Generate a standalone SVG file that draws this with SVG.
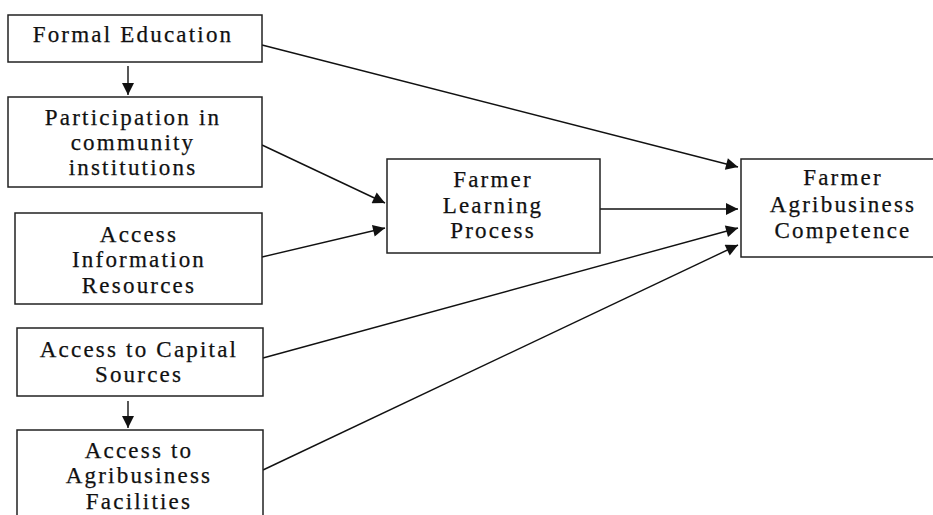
<svg xmlns="http://www.w3.org/2000/svg" width="933" height="515" viewBox="0 0 933 515">
<style>
.box{fill:#fff;stroke:#222;stroke-width:1.5}
.t{font-family:"Liberation Serif","Times New Roman",serif;font-size:23px;fill:#111;stroke:#111;stroke-width:0.25;text-anchor:middle;letter-spacing:2.2px}
.c{stroke:#111;stroke-width:1.4;fill:none;marker-end:url(#ah)}
</style>
<defs>
<marker id="ah" viewBox="0 0 10 10" refX="10" refY="5" markerWidth="15" markerHeight="12" markerUnits="userSpaceOnUse" orient="auto">
<path d="M0,0 L10,5 L0,10 z" fill="#111"/>
</marker>
</defs>
<rect width="933" height="515" fill="#fff"/>
<g id="connectors">
<line class="c" x1="262" y1="45" x2="738" y2="167"/>
<line class="c" x1="128" y1="66" x2="128" y2="95"/>
<line class="c" x1="262" y1="145" x2="385" y2="203"/>
<line class="c" x1="262" y1="257" x2="385" y2="228"/>
<line class="c" x1="600" y1="209" x2="738" y2="209"/>
<line class="c" x1="263" y1="358" x2="738" y2="228"/>
<line class="c" x1="128" y1="401" x2="128" y2="428"/>
<line class="c" x1="263" y1="470" x2="738" y2="245"/>
</g>
<g id="formal-education">
<rect class="box" x="8" y="15" width="254" height="47"/>
<text class="t" x="133" y="42">Formal Education</text>
</g>
<g id="participation">
<rect class="box" x="8" y="97" width="254" height="90"/>
<text class="t" x="133" y="125">Participation in</text>
<text class="t" x="133" y="150">community</text>
<text class="t" x="133" y="175">institutions</text>
</g>
<g id="access-information">
<rect class="box" x="15" y="213" width="247" height="91"/>
<text class="t" x="139" y="242">Access</text>
<text class="t" x="139" y="267">Information</text>
<text class="t" x="139" y="293">Resources</text>
</g>
<g id="access-capital">
<rect class="box" x="17" y="328" width="246" height="68"/>
<text class="t" x="139" y="357">Access to Capital</text>
<text class="t" x="139" y="382">Sources</text>
</g>
<g id="access-facilities">
<rect class="box" x="17" y="430" width="246" height="100"/>
<text class="t" x="139" y="458">Access to</text>
<text class="t" x="139" y="483">Agribusiness</text>
<text class="t" x="139" y="509">Facilities</text>
</g>
<g id="farmer-learning">
<rect class="box" x="387" y="159" width="213" height="94"/>
<text class="t" x="493" y="187">Farmer</text>
<text class="t" x="493" y="213">Learning</text>
<text class="t" x="493" y="238">Process</text>
</g>
<g id="farmer-competence">
<rect class="box" x="741" y="159" width="200" height="98"/>
<text class="t" x="843" y="185">Farmer</text>
<text class="t" x="843" y="212">Agribusiness</text>
<text class="t" x="843" y="238">Competence</text>
</g>
</svg>
